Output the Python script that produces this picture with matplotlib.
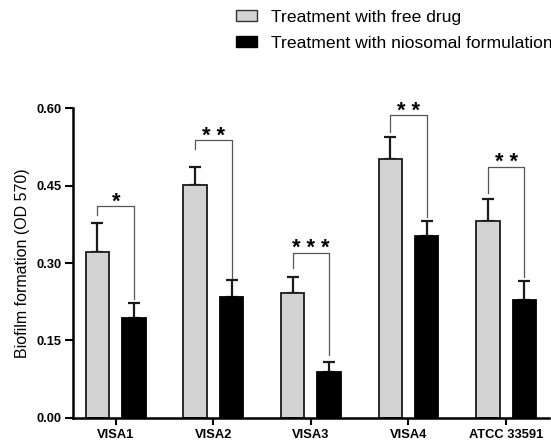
import numpy as np
import matplotlib
matplotlib.use('Agg')
import matplotlib.pyplot as plt
from matplotlib.patches import Patch

plt.rcParams['font.family'] = ['Liberation Sans', 'DejaVu Sans']

# data
strains = ['VISA1', 'VISA2', 'VISA3', 'VISA4', 'ATCC 33591']
free_drug = [0.321, 0.451, 0.241, 0.501, 0.382]
free_err = [0.057, 0.036, 0.032, 0.043, 0.043]
niosome = [0.193, 0.234, 0.089, 0.352, 0.229]
niosome_err = [0.030, 0.033, 0.020, 0.030, 0.037]
stars = ['*', '* *', '* * *', '* *', '* *']
bracket_top = [0.410, 0.538, 0.320, 0.587, 0.487]
bracket_left = [0.394, 0.522, 0.290, 0.555, 0.435]
bracket_right = [0.230, 0.270, 0.122, 0.390, 0.273]
y_ticks = [0.00, 0.15, 0.30, 0.45, 0.60]

fig = plt.figure(figsize=(5.51, 4.45), dpi=100)
ax = fig.add_axes([0.132, 0.0613, 0.8644, 0.6953])

x = np.arange(len(strains))
off = 0.187
w = 0.24

ax.bar(x - off, free_drug, w, color='#d3d3d3', edgecolor='#1a1a1a', linewidth=1.3, zorder=2)
ax.bar(x + off, niosome, w, color='black', edgecolor='black', linewidth=1.3, zorder=2)
ax.errorbar(x - off, free_drug, yerr=[np.zeros(len(x)), free_err], fmt='none',
            ecolor='#1a1a1a', elinewidth=1.6, capsize=4.3, capthick=1.6, zorder=1)
ax.errorbar(x + off, niosome, yerr=[np.zeros(len(x)), niosome_err], fmt='none',
            ecolor='#1a1a1a', elinewidth=1.6, capsize=4.3, capthick=1.6, zorder=1)

# significance brackets
for i in range(len(x)):
    ax.plot([x[i] - off, x[i] - off, x[i] + off, x[i] + off],
            [bracket_left[i], bracket_top[i], bracket_top[i], bracket_right[i]],
            color='#555555', linewidth=0.9, zorder=3)
    ax.text(x[i], bracket_top[i] - 0.003, stars[i], ha='center', va='baseline',
            fontsize=15.5, fontweight='bold', color='black')

ax.set_xlim(-0.44, 4.44)
ax.set_ylim(0, 0.6)
ax.set_yticks(y_ticks)
ax.set_yticklabels(['%.2f' % t for t in y_ticks], fontweight='bold', fontsize=9.3)
ax.set_xticks(x)
ax.set_xticklabels(strains, fontweight='bold', fontsize=9.3)
ax.set_ylabel('Biofilm formation (OD 570)', fontsize=11.5, labelpad=5)

for s in ['top', 'right']:
    ax.spines[s].set_visible(False)
for s in ['left', 'bottom']:
    ax.spines[s].set_linewidth(1.8)
ax.tick_params(axis='y', width=1.5, length=6, pad=2)
ax.tick_params(axis='x', width=1.5, length=5, pad=3)

handles = [Patch(facecolor='#d3d3d3', edgecolor='#333333', linewidth=1),
           Patch(facecolor='black', edgecolor='black')]
fig.legend(handles, ['Treatment with free drug', 'Treatment with niosomal formulation'],
           loc='upper left', bbox_to_anchor=(0.428, 0.978), frameon=False,
           fontsize=12.6, handlelength=1.2, handleheight=0.58, handletextpad=0.8,
           labelspacing=0.62, borderpad=0, borderaxespad=0)

fig.savefig('out.png', dpi=100)
